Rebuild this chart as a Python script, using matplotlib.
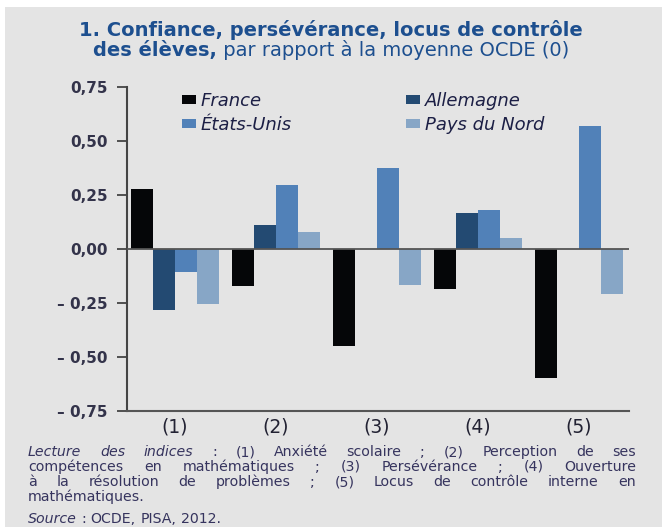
import numpy as np
import matplotlib
matplotlib.use('Agg')
import matplotlib.pyplot as plt
from matplotlib.patches import Rectangle, Patch

# ---------------- data ----------------
categories = ['(1)', '(2)', '(3)', '(4)', '(5)']
series_names = ['France', 'Allemagne', 'États-Unis', 'Pays du Nord']
france = [0.278, -0.17, -0.448, -0.185, -0.596]
allemagne = [-0.281, 0.113, np.nan, 0.167, np.nan]
etats_unis = [-0.105, 0.298, 0.375, 0.18, 0.568]
pays_du_nord = [-0.253, 0.077, -0.165, 0.052, -0.208]
yticks = [-0.75, -0.5, -0.25, 0.0, 0.25, 0.5, 0.75]
ytick_labels = ['– 0,75', '– 0,50', '– 0,25', '0,00', '0,25', '0,50', '0,75']
colors = ['#050608', '#234a72', '#5181b8', '#87a6c6']

W, H = 662, 527
FONT = 'DejaVu Sans'
plt.rcParams['font.family'] = [FONT]

fig = plt.figure(figsize=(W / 100, H / 100), dpi=100)
fig.patch.set_facecolor('white')
fig.patches.append(Rectangle((5 / W, 0), 1, 1 - 7 / H, transform=fig.transFigure,
                             facecolor='#e4e4e4', edgecolor='none', zorder=-10))


def px(x, y):
    return x / W, 1 - y / H


ax = fig.add_axes([127 / W, 1 - 411 / H, (629 - 127) / W, (411 - 87) / H])
ax.set_facecolor('none')

series = [france, allemagne, etats_unis, pays_du_nord]
bw = 0.218
xs = np.arange(len(categories))
handles = []
for k, (vals, c, name) in enumerate(zip(series, colors, series_names)):
    v = np.array(vals, dtype=float)
    m = ~np.isnan(v)
    ax.bar(xs[m] + (k - 1.5) * bw, v[m], width=bw, color=c, edgecolor='none', zorder=2)
    handles.append(Patch(facecolor=c, edgecolor='none', label=name))

ax.set_xlim(-0.475, 4.495)
ax.set_ylim(-0.75, 0.75)
ax.axhline(0, color='#555555', lw=1.3, zorder=3)
for s in ['top', 'right']:
    ax.spines[s].set_visible(False)
ax.spines['left'].set_color('#444444')
ax.spines['left'].set_linewidth(1.5)
ax.spines['bottom'].set_color('#555555')
ax.spines['bottom'].set_linewidth(1.5)

ax.set_yticks(yticks)
ax.set_yticklabels(ytick_labels, fontsize=11, fontweight='bold', color='#33334a')
ax.tick_params(axis='y', length=7, width=1.3, color='#444444', pad=7)
ax.set_xticks(xs)
ax.set_xticklabels(categories, fontsize=13.5, color='#222233')
ax.tick_params(axis='x', length=0, pad=5)

renderer = fig.canvas.get_renderer()


def width_of(t):
    return t.get_window_extent(renderer=renderer).width


# legend (column-wise: France, États-Unis | Allemagne, Pays du Nord)
leg_fs = 13
leg_px = leg_fs * 100 / 72
tmp = fig.text(0, 0, 'États-Unis', fontsize=leg_fs, style='italic')
col1_w = width_of(tmp)
tmp.remove()
hl, pad = 14 / leg_px, 5 / leg_px
colsp = (406 - 182 - 14 - 5 - col1_w) / leg_px
order = [0, 2, 1, 3]
leg = fig.legend([handles[i] for i in order], [series_names[i] for i in order],
                 ncol=2, loc='upper left', bbox_to_anchor=px(182, 92),
                 frameon=False, prop={'family': FONT, 'style': 'italic', 'size': leg_fs},
                 handlelength=hl, handleheight=0.42, handletextpad=pad,
                 columnspacing=colsp, labelspacing=0.34, borderpad=0, borderaxespad=0)
for t in leg.get_texts():
    t.set_color('#1c1f45')

# title
title_color = '#1d4f8f'
tfs = 14
fig.text(*px(331, 30), '1. Confiance, persévérance, locus de contrôle', ha='center', va='center',
         fontsize=tfs, fontweight='bold', color=title_color)

# second title line: bold + normal, centered
t1 = fig.text(0, 0, 'des élèves,', ha='left', va='baseline', fontsize=tfs,
              fontweight='bold', color=title_color)
t2 = fig.text(0, 0, ' par rapport à la moyenne OCDE (0)', ha='left', va='baseline',
              fontsize=tfs, color=title_color)
w1, w2 = width_of(t1), width_of(t2)
x_start = 331 - (w1 + w2) / 2
t1.set_position(px(x_start, 56))
t2.set_position(px(x_start + w1, 56))

# footnote, justified
foot_color = '#36345e'
fs = 10.2


def draw_line(pieces, y, x0=28, x1=636, justify=True):
    words = []
    for txt, style in pieces:
        for w in txt.split(' '):
            if w:
                words.append(fig.text(0, 0, w, ha='left', va='baseline', fontsize=fs,
                                      style=style, color=foot_color))
    widths = [width_of(t) for t in words]
    if justify and len(words) > 1:
        gap = (x1 - x0 - sum(widths)) / (len(words) - 1)
    else:
        gap = fs * 100 / 72 * 0.32
    x = x0
    for t, w in zip(words, widths):
        t.set_position(px(x, y))
        x += w + gap


draw_line([('Lecture des indices', 'italic'),
           (': (1) Anxiété scolaire ; (2) Perception de ses', 'normal')], 456)
draw_line([('compétences en mathématiques ; (3) Persévérance ; (4) Ouverture', 'normal')], 471)
draw_line([('à la résolution de problèmes ; (5) Locus de contrôle interne en', 'normal')], 486)
draw_line([('mathématiques.', 'normal')], 501, justify=False)
draw_line([('Source', 'italic'), (': OCDE, PISA, 2012.', 'normal')], 523, justify=False)

fig.savefig('out.png', dpi=100, facecolor=fig.get_facecolor())
